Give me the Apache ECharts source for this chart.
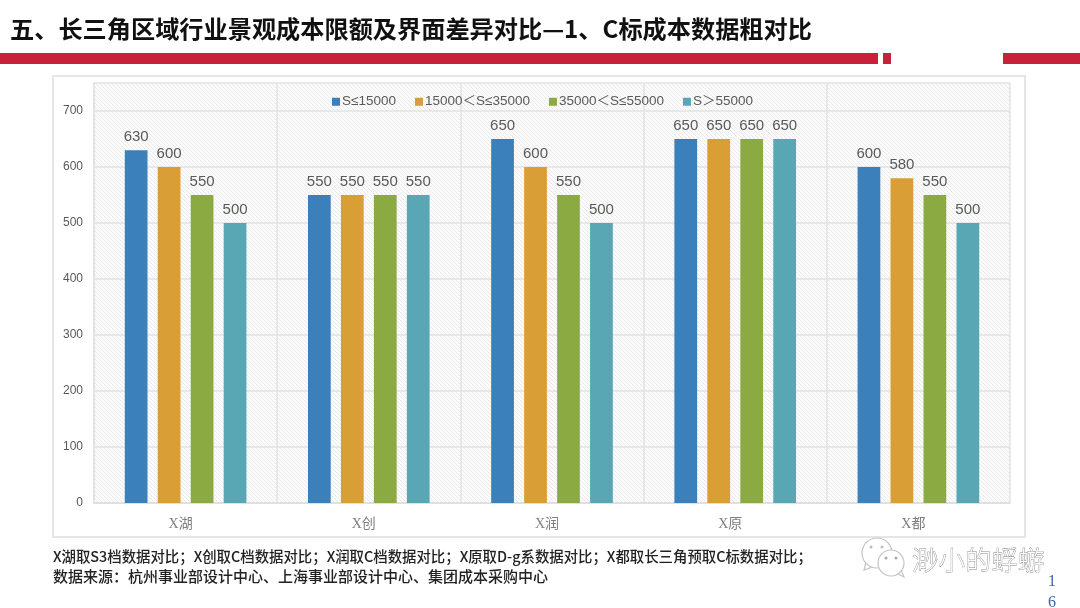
<!DOCTYPE html>
<html>
<head>
<meta charset="utf-8">
<title>C标成本数据粗对比</title>
<script src="https://cdn.jsdelivr.net/npm/echarts@6/dist/echarts.min.js"></script>
<style>
html, body { margin: 0; padding: 0; background: #fff; }
#main { width: 1080px; height: 608px; }
</style>
</head>
<body>
<div id="main"></div>
<script>
var categories = ['X湖', 'X创', 'X润', 'X原', 'X都'];
var seriesNames = ['S≤15000', '15000\uFF1CS≤35000', '35000\uFF1CS≤55000', 'S\uFF1E55000'];
var valuesA = [630, 550, 650, 650, 600];
var valuesB = [600, 550, 600, 650, 580];
var valuesC = [550, 550, 550, 650, 550];
var valuesD = [500, 550, 500, 650, 500];
var colors = ['#3B80BA', '#D99E36', '#8CAA42', '#59A6B4'];
var titleText = '五、长三角区域行业景观成本限额及界面差异对比—1、C标成本数据粗对比';
var noteLine1 = 'X湖取S3档数据对比\uFF1BX创取C档数据对比\uFF1BX润取C档数据对比\uFF1BX原取D-g系数据对比\uFF1BX都取长三角预取C标数据对比\uFF1B';
var noteLine2 = '数据来源\uFF1A杭州事业部设计中心、上海事业部设计中心、集团成本采购中心';
var cjkFont = '"Noto Sans CJK SC", sans-serif';
var latinFont = '"Liberation Sans", "Noto Sans CJK SC", sans-serif';

// 网格背景的斜线底纹
function hatchTile() {
    var c = document.createElement('canvas');
    c.width = 4;
    c.height = 4;
    var ctx = c.getContext('2d');
    ctx.fillStyle = '#fbfbfb';
    ctx.fillRect(0, 0, 4, 4);
    ctx.strokeStyle = '#ebebeb';
    ctx.lineWidth = 1;
    ctx.beginPath();
    ctx.moveTo(-1, -1); ctx.lineTo(5, 5);
    ctx.moveTo(-1, 3); ctx.lineTo(1, 5);
    ctx.moveTo(3, -1); ctx.lineTo(5, 1);
    ctx.stroke();
    return c;
}

function barSeries(name, data, color) {
    return {
        name: name,
        type: 'bar',
        data: data,
        barGap: '45%',
        barCategoryGap: '33.6%',
        itemStyle: { color: color },
        label: {
            show: true,
            position: 'top',
            distance: 6,
            color: '#595959',
            fontSize: 15,
            fontFamily: latinFont
        }
    };
}

var redBar = { fill: '#C8213A' };
var wmIcon = { fill: '#fff', stroke: '#c4c4c4', lineWidth: 1.2 };
var myChart = echarts.init(document.getElementById('main'));
myChart.setOption({
    animation: false,
    color: colors,
    title: {
        text: titleText,
        left: 5,
        top: 12,
        textStyle: { color: '#111', fontSize: 24.2, fontWeight: 'bold', fontFamily: cjkFont }
    },
    legend: {
        left: 327,
        top: 90,
        itemWidth: 8,
        itemHeight: 8,
        itemGap: 19,
        icon: 'rect',
        textStyle: { color: '#595959', fontSize: 13.5, fontFamily: latinFont, padding: [0, 0, 0, -3] },
        data: seriesNames
    },
    grid: {
        left: 94,
        right: 70,
        top: 83,
        bottom: 105,
        show: true,
        borderWidth: 0,
        backgroundColor: { image: hatchTile(), repeat: 'repeat' }
    },
    xAxis: {
        type: 'category',
        data: categories,
        axisTick: { show: false },
        axisLine: { lineStyle: { color: '#e0e0e0', width: 2 } },
        axisLabel: { color: '#7f7f7f', fontSize: 14, margin: 14, padding: [0, 10, 0, 0], fontFamily: '"Liberation Serif", "Noto Sans CJK SC", serif' },
        splitLine: { show: true, lineStyle: { color: '#e3e3e3', width: 1.5 } }
    },
    yAxis: {
        type: 'value',
        min: 0,
        max: 750,
        interval: 100,
        axisLine: { show: true, lineStyle: { color: '#e3e3e3', width: 2 } },
        axisTick: { show: false },
        axisLabel: { color: '#595959', fontSize: 12, margin: 11, padding: [2, 0, 0, 0], fontFamily: latinFont, showMaxLabel: false },
        splitLine: { lineStyle: { color: '#e3e3e3', width: 1.5 } }
    },
    series: [
        barSeries(seriesNames[0], valuesA, colors[0]),
        barSeries(seriesNames[1], valuesB, colors[1]),
        barSeries(seriesNames[2], valuesC, colors[2]),
        barSeries(seriesNames[3], valuesD, colors[3])
    ],
    graphic: [
        { type: 'rect', shape: { x: 0, y: 53, width: 878, height: 11 }, style: redBar },
        { type: 'rect', shape: { x: 883, y: 53, width: 8, height: 11 }, style: redBar },
        { type: 'rect', shape: { x: 1003, y: 53, width: 77, height: 11 }, style: redBar },
        { type: 'rect', shape: { x: 53, y: 76, width: 972, height: 461 }, style: { fill: 'none', stroke: '#e6e6e6', lineWidth: 2 } },
        { type: 'text', x: 53, y: 557, style: { text: noteLine1, fill: '#222', fontSize: 14.4, fontWeight: 500, fontFamily: cjkFont, verticalAlign: 'middle' } },
        { type: 'text', x: 53, y: 576, style: { text: noteLine2, fill: '#222', fontSize: 15, fontWeight: 500, fontFamily: cjkFont, verticalAlign: 'middle' } },
        // 水印
        { type: 'polygon', shape: { points: [[866, 562], [864, 570], [875, 566]] }, style: wmIcon },
        { type: 'circle', shape: { cx: 877, cy: 553, r: 15 }, style: wmIcon },
        { type: 'polygon', shape: { points: [[894, 572], [904, 577], [900, 568]] }, style: wmIcon },
        { type: 'circle', shape: { cx: 891, cy: 563, r: 13 }, style: wmIcon },
        { type: 'circle', shape: { cx: 871, cy: 547, r: 1.5 }, style: { fill: '#bdbdbd' } },
        { type: 'circle', shape: { cx: 882, cy: 547, r: 1.5 }, style: { fill: '#bdbdbd' } },
        { type: 'circle', shape: { cx: 886, cy: 558, r: 1.5 }, style: { fill: '#a8a8a8' } },
        { type: 'circle', shape: { cx: 896, cy: 558, r: 1.5 }, style: { fill: '#a8a8a8' } },
        { type: 'text', x: 912, y: 560, style: { text: '渺小的蜉蝣', fill: '#fff', stroke: '#8a8a8a', lineWidth: 0.8, fontSize: 26.5, fontWeight: 300, fontFamily: cjkFont, verticalAlign: 'middle' } },
        // 页码
        { type: 'text', x: 1048, y: 582, style: { text: '1', fill: '#3F62A8', fontSize: 16, fontFamily: '"Liberation Serif", serif', verticalAlign: 'middle' } },
        { type: 'text', x: 1048, y: 603, style: { text: '6', fill: '#3F62A8', fontSize: 16, fontFamily: '"Liberation Serif", serif', verticalAlign: 'middle' } }
    ]
});
</script>
</body>
</html>
